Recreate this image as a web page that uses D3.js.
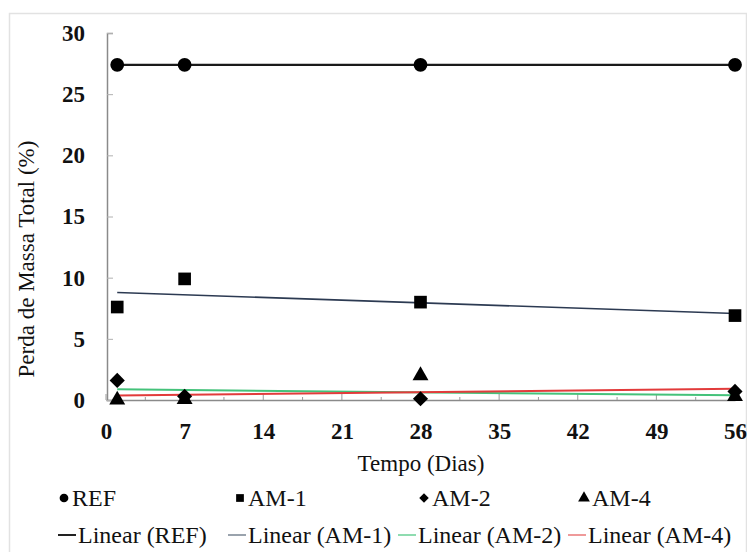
<!DOCTYPE html>
<html><head><meta charset="utf-8">
<script src="https://cdn.jsdelivr.net/npm/d3@7"></script>
<style>body{margin:0;background:#fff}</style>
</head><body><svg id="chart" width="747" height="552"></svg>
<script>
// ---- data ----
const days = [1, 7, 28, 56];
const seriesNames = ["REF", "AM-1", "AM-2", "AM-4"];
const refValues = [27.4, 27.4, 27.4, 27.4];
const am1Values = [7.6, 9.9, 8.0, 6.9];
const am2Values = [1.6, 0.3, 0.1, 0.7];
const am4Values = [0.0, 0.05, 2.0, 0.3];
const xTicks = [0, 7, 14, 21, 28, 35, 42, 49, 56];
const yTicks = [0, 5, 10, 15, 20, 25, 30];
const trendLabels = ["Linear (REF)", "Linear (AM-1)", "Linear (AM-2)", "Linear (AM-4)"];

const FONT = "Liberation Serif";
const series = [
  {name: seriesNames[0], values: refValues, symbol: d3.symbolCircle, size: 150, rot: 0, trend: "#1a1a1a", tw: 2.2, legTrend: "#222"},
  {name: seriesNames[1], values: am1Values, symbol: d3.symbolSquare, size: 160, rot: 0, trend: "#2c3a52", tw: 1.6, legTrend: "#9aa3ad"},
  {name: seriesNames[2], values: am2Values, symbol: d3.symbolSquare, size: 115, rot: 45, trend: "#44c27a", tw: 2, legTrend: "#8fdcb0"},
  {name: seriesNames[3], values: am4Values, symbol: d3.symbolTriangle, size: 110, rot: 0, trend: "#e23b3b", tw: 2, legTrend: "#ef9a9a"}
];

const svg = d3.select("#chart");
const x = d3.scaleLinear().domain([0, 56]).range([106, 735]);
const y = d3.scaleLinear().domain([0, 30]).range([400, 33]);

// outer frame
svg.append("rect").attr("x", 9.5).attr("y", 13.5).attr("width", 737).attr("height", 540)
  .attr("fill", "none").attr("stroke", "#e2e2e2").attr("stroke-width", 1.5);

// axes
const ax = svg.append("g").attr("transform", "translate(0,400)")
  .call(d3.axisBottom(x).tickValues(xTicks).tickSize(0).tickPadding(0).tickFormat(d3.format("d")));
ax.attr("font-family", FONT);
ax.select(".domain").attr("stroke", "#8a8a8a").attr("stroke-width", 1.5);
ax.selectAll("text").attr("font-size", 23).attr("font-weight", "bold").attr("dy", null).attr("y", 39)
  .attr("font-family", FONT).attr("fill", "#111");
// minor ticks on x axis
svg.append("g").selectAll("line").data(d3.range(0, 56.1, 3.5)).join("line")
  .attr("x1", d => x(d)).attr("x2", d => x(d)).attr("y1", 400).attr("y2", d => d % 7 === 0 ? 394 : 397)
  .attr("stroke", "#9a9a9a").attr("stroke-width", 1);

const ay = svg.append("g").attr("transform", "translate(107,0)")
  .call(d3.axisLeft(y).tickValues(yTicks).tickSize(-6).tickPadding(22).tickFormat(d3.format("d")));
ay.attr("font-family", FONT);
ay.select(".domain").attr("stroke", "#8a8a8a").attr("stroke-width", 1.5);
ay.selectAll(".tick line").attr("stroke", "#b0b0b0");
ay.selectAll("text").attr("font-size", 23).attr("font-weight", "bold").attr("font-family", FONT).attr("fill", "#111");

// axis titles
svg.append("text").attr("x", 421).attr("y", 471).attr("text-anchor", "middle").attr("font-size", 23)
  .attr("font-family", FONT).attr("fill", "#111").text("Tempo (Dias)");
svg.append("text").attr("transform", "translate(34,259) rotate(-90)").attr("text-anchor", "middle")
  .attr("font-size", 23).attr("font-family", FONT).attr("fill", "#111").text("Perda de Massa Total (%)");

// trendlines (least squares, spanning data range)
function fit(xs, ys) {
  const mx = d3.mean(xs), my = d3.mean(ys);
  const b = d3.sum(xs, (v, i) => (v - mx) * (ys[i] - my)) / d3.sum(xs, v => (v - mx) ** 2);
  return t => my + b * (t - mx);
}
const line = d3.line().x(d => x(d[0])).y(d => y(d[1]));
series.forEach(s => {
  const f = fit(days, s.values);
  const ext = d3.extent(days);
  svg.append("path").attr("d", line([[ext[0], f(ext[0])], [ext[1], f(ext[1])]]))
    .attr("stroke", s.trend).attr("stroke-width", s.tw).attr("fill", "none");
});

// markers
series.forEach(s => {
  svg.append("g").selectAll("path").data(days.map((d, i) => [d, s.values[i]])).join("path")
    .attr("d", d3.symbol().type(s.symbol).size(s.size))
    .attr("transform", d => `translate(${x(d[0])},${y(d[1])}) rotate(${s.rot})`)
    .attr("fill", "#000");
});

// legend row 1
const leg1X = [64, 240, 424, 584];
const lg1 = svg.append("g");
series.forEach((s, i) => {
  lg1.append("path").attr("d", d3.symbol().type(s.symbol).size(s.rot ? 45 : 60))
    .attr("transform", `translate(${leg1X[i]},${498}) rotate(${s.rot})`).attr("fill", "#000");
  lg1.append("text").attr("x", leg1X[i] + 8).attr("y", 506).attr("font-size", 24).attr("font-family", FONT)
    .attr("fill", "#111").text(s.name);
});
// legend row 2
const leg2X = [58, 228, 398, 568];
const lg2 = svg.append("g");
series.forEach((s, i) => {
  lg2.append("line").attr("x1", leg2X[i]).attr("x2", leg2X[i] + 18).attr("y1", 535).attr("y2", 535)
    .attr("stroke", s.legTrend).attr("stroke-width", 2);
  lg2.append("text").attr("x", leg2X[i] + 20).attr("y", 543).attr("font-size", 24).attr("font-family", FONT)
    .attr("fill", "#111").text(trendLabels[i]);
});
</script></body></html>
